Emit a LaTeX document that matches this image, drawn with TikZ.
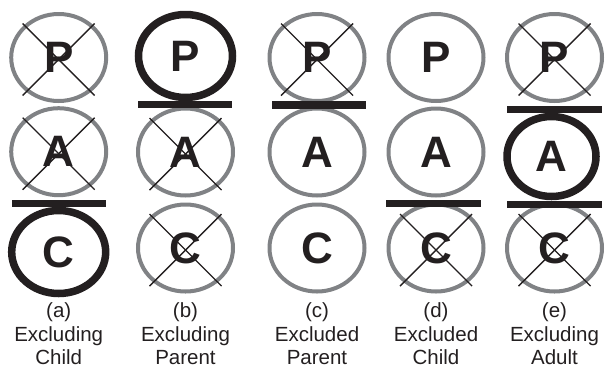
\documentclass[tikz,border=0pt]{standalone}
\usepackage{fontspec}
\setmainfont{Liberation Sans}
\usetikzlibrary{shapes.geometric}
\definecolor{ringgray}{RGB}{128,130,133}
\definecolor{inkblack}{RGB}{35,31,32}
\tikzset{
  ring/.style={ellipse, draw=ringgray, line width=4pt, inner sep=0pt,
    minimum width=95pt, minimum height=87pt,
    font=\fontsize{44}{44}\selectfont\bfseries, text=inkblack},
  boldring/.style={ellipse, draw=inkblack, line width=7.5pt, inner sep=0pt,
    minimum width=94pt, minimum height=83pt,
    font=\fontsize{44}{44}\selectfont\bfseries, text=inkblack},
  barline/.style={draw=none, fill=inkblack},
  crossline/.style={draw=inkblack, line width=1.4pt},
  caption/.style={align=center, inner sep=1pt, font=\fontsize{20.5}{23.5}\selectfont, text=inkblack}
}
\newcommand{\xcross}[1]{%
  \draw[crossline] (#1.center) ++(-36,-34) -- ++(72,72);
  \draw[crossline] (#1.center) ++(36,-34) -- ++(-72,72);}
\begin{document}
\begin{tikzpicture}[x=1pt,y=-1pt]
\useasboundingbox (0,0) rectangle (607,368);
% column a
\node[ring] (aP) at (58.7,57.5) {P};
\node[ring] (aA) at (58.7,151.7) {A};
\node[boldring] (aC) at (58.7,252) {C};
\fill[barline] (12,200) rectangle (106,207);
\xcross{aP}\xcross{aA}
% column b
\node[boldring] (bP) at (185.5,56) {P};
\node[ring] (bA) at (185.5,152) {A};
\node[ring] (bC) at (185.5,248) {C};
\fill[barline] (138,101) rectangle (232,108);
\xcross{bA}\xcross{bC}
% column c
\node[ring] (cP) at (317,57.5) {P};
\node[ring] (cA) at (317,152) {A};
\node[ring] (cC) at (317,248) {C};
\fill[barline] (271.7,101) rectangle (366,108.5);
\xcross{cP}
% column d
\node[ring] (dP) at (436,57.5) {P};
\node[ring] (dA) at (436,152) {A};
\node[ring] (dC) at (436,248) {C};
\fill[barline] (386,200) rectangle (480.7,207.3);
\xcross{dC}
% column e
\node[ring] (eP) at (554.5,57.5) {P};
\node[boldring, minimum width=89pt, minimum height=80pt] (eA) at (551.5,156.5) {A};
\node[ring] (eC) at (554.5,248) {C};
\fill[barline] (507,106) rectangle (602,113);
\fill[barline] (507,201) rectangle (602,208);
\xcross{eP}\xcross{eC}
% captions
\node[caption] (la) at (58.7,334) {(a)\\Excluding\\Child};
\node[caption] (lb) at (185.5,334) {(b)\\Excluding\\Parent};
\node[caption] (lc) at (317,334) {(c)\\Excluded\\Parent};
\node[caption] (ld) at (436,334) {(d)\\Excluded\\Child};
\node[caption] (le) at (554.5,334) {(e)\\Excluding\\Adult};
\end{tikzpicture}
\end{document}
